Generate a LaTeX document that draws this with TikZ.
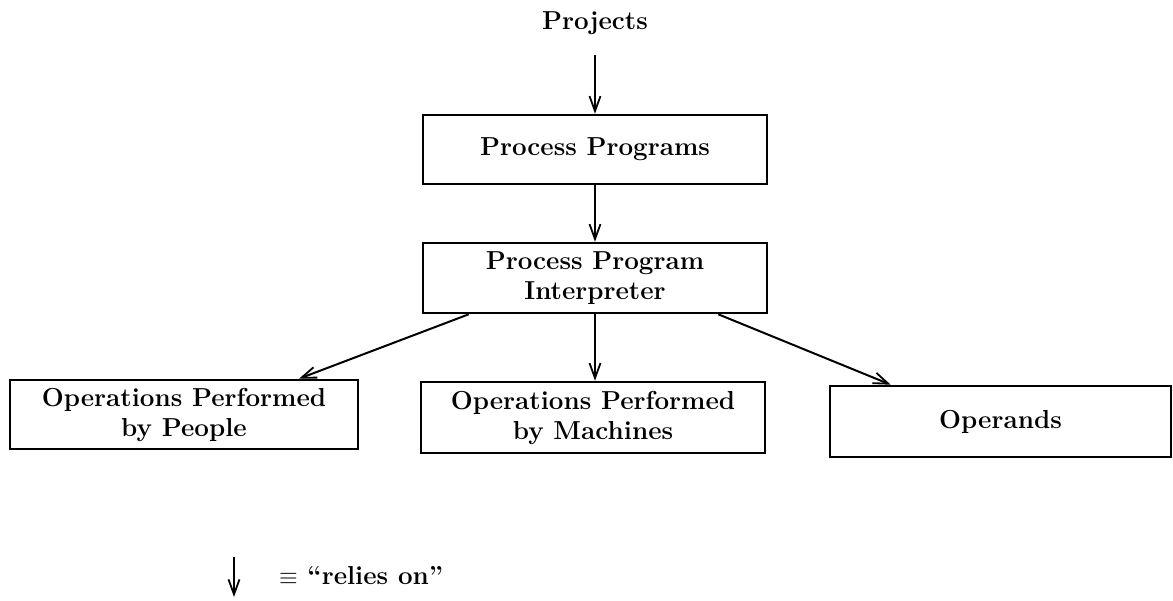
\documentclass[tikz,border=0pt]{standalone}
\usetikzlibrary{arrows.meta}

\begin{document}
\begin{tikzpicture}[x=0.5pt,y=-0.5pt,
    font=\fontsize{13}{15}\selectfont\bfseries,
    box/.style={draw,line width=1.3pt,align=center,inner sep=0pt},
    rel/.style={line width=1pt,-{Straight Barb[length=7.5pt,width=5.5pt,line width=0.9pt]}}]
    \useasboundingbox (0,0) rectangle (1173,600);

    \node (proj) at (595,23) {Projects};
    \node[box,minimum width=172pt,minimum height=34.5pt] (pp) at (595,149.5)
      {Process Programs};
    \node[box,minimum width=172pt,minimum height=35pt] (ppi) at (595,278)
      {Process Program\\Interpreter};

    \node[box,minimum width=174pt,minimum height=34.5pt] (people) at (184,414.5)
      {Operations Performed\\by People};
    \node[box,minimum width=172pt,minimum height=35.5pt] (machines) at (593,417.5)
      {Operations Performed\\by Machines};
    \node[box,minimum width=170.5pt,minimum height=35.5pt] (operands) at (1000.5,421.5)
      {Operands};

    \draw[rel] (proj.south |- 0,55) -- (pp.north);
    \draw[rel] (pp) -- (ppi);
    \draw[rel] ([xshift=23.5pt]ppi.south west) -- ([xshift=57.5pt]people.north);
    \draw[rel] (ppi.south) -- (ppi.south |- machines.north);
    \draw[rel] ([xshift=-25pt]ppi.south east) -- ([xshift=31pt]operands.north west);

    % legend
    \coordinate (keytop) at (234,557);
    \coordinate (keybot) at (234,597);
    \draw[rel] (keytop) -- (keybot);
    \node[anchor=west] (keytext) at (272,576) {$\equiv$ ``relies on''};
  \end{tikzpicture}
\end{document}
